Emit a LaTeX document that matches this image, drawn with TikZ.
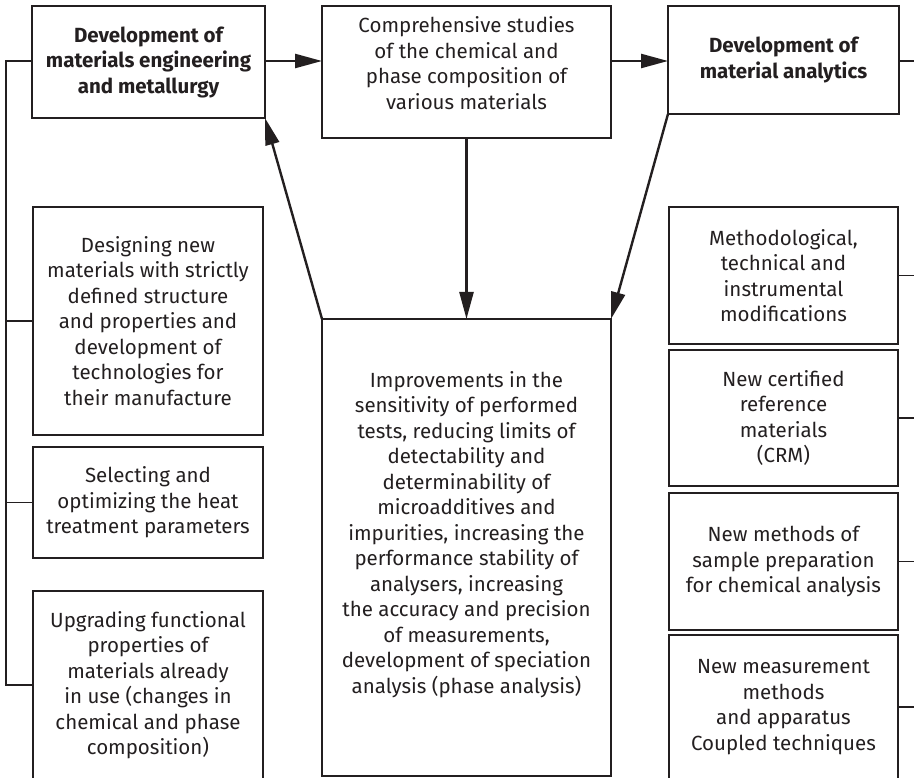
\documentclass[tikz,border=0pt]{standalone}
\usepackage{fontspec}
\setmainfont{Fira Sans}
\usetikzlibrary{arrows.meta}
\definecolor{ink}{RGB}{35,31,32}
\begin{document}
\begin{tikzpicture}[x=1pt, y=-1pt,
  every node/.style={inner sep=0pt, outer sep=0pt},
  txt/.style={align=center, text=ink, font=\fontsize{20.5}{25.5}\selectfont},
  boldtxt/.style={txt, font=\fontsize{20.5}{25.5}\selectfont\bfseries},
  mainbox/.style={draw=ink, line width=2.6pt, rectangle},
  subbox/.style={draw=ink, line width=1.3pt, rectangle},
  flow/.style={draw=ink, line width=2.4pt, -{Triangle[length=27pt, width=14pt]}},
  tick/.style={draw=ink, line width=1.3pt}
]
\useasboundingbox (0,0) rectangle (914,778);
\clip (0,0) rectangle (914,778);

% top row
\node[mainbox, minimum width=233pt, minimum height=112pt] (A) at (148.5,62) {};
\node[boldtxt] at (A) {Development of\\materials engineering\\and metallurgy};
\node[mainbox, minimum width=289pt, minimum height=132pt] (B) at (466.5,72) {};
\node[txt, yshift=9pt] at (B) {Comprehensive studies\\of the chemical and\\phase composition of\\various materials};
\node[mainbox, minimum width=231pt, minimum height=108pt] (C) at (783.5,60) {};
\node[boldtxt] at (C) {Development of\\material analytics};

% central result box
\node[mainbox, minimum width=289pt, minimum height=457pt] (E) at (466.5,547.5) {};
\node[txt, yshift=13pt] at (E) {Improvements in the\\sensitivity of performed\\tests, reducing limits of\\detectability and\\determinability of\\microadditives and\\impurities, increasing the\\performance stability of\\analysers, increasing\\the accuracy and precision\\of measurements,\\development of speciation\\analysis (phase analysis)};

% left column
\node[subbox, minimum width=230pt, minimum height=228pt] (D1) at (148,321) {};
\node[txt] at (D1) {Designing new\\materials with strictly\\defined structure\\and properties and\\development of\\technologies for\\their manufacture};
\node[subbox, minimum width=230pt, minimum height=111pt] (D2) at (148,502.5) {};
\node[txt] at (D2) {Selecting and\\optimizing the heat\\treatment parameters};
\node[subbox, minimum width=230pt, minimum height=188pt] (D3) at (148,685) {};
\node[txt] at (D3) {Upgrading functional\\properties of\\materials already\\in use (changes in\\chemical and phase\\composition)};

% right column
\node[subbox, minimum width=229pt, minimum height=137pt] (R1) at (783.5,275.5) {};
\node[txt] at (R1) {Methodological,\\technical and\\instrumental\\modifications};
\node[subbox, minimum width=229pt, minimum height=136pt] (R2) at (783.5,418) {};
\node[txt] at (R2) {New certified\\reference\\materials\\(CRM)};
\node[subbox, minimum width=229pt, minimum height=137pt] (R3) at (783.5,561.5) {};
\node[txt] at (R3) {New methods of\\sample preparation\\for chemical analysis};
\node[subbox, minimum width=229pt, minimum height=144pt] (R4) at (783.5,707) {};
\node[txt] at (R4) {New measurement\\methods\\and apparatus\\Coupled techniques};

% flow arrows
\draw[flow] (A.east |- 0,61) -- (B.west |- 0,61);
\draw[flow] (B.east |- 0,61) -- (C.west |- 0,61);
\draw[flow] (B.south) -- (E.north);
\draw[flow] (E.north west) -- (A.south east);
\draw[flow] (C.south west) -- (E.north east);

% left bracket
\coordinate (lb) at (6,61);
\coordinate (rb) at (914,61);
\draw[tick] (A.west |- lb) -- (lb) -- (lb |- D3.west) -- (D3.west);
\draw[tick] (D1.west) -- (D1.west -| lb);
\draw[tick] (D2.west) -- (D2.west -| lb);

% right bracket ticks
\draw[tick] (C.east |- rb) -- (rb);
\draw[tick] (R1.east) -- (R1.east -| rb);
\draw[tick] (R2.east) -- (R2.east -| rb);
\draw[tick] (R3.east) -- (R3.east -| rb);
\draw[tick] (R4.east) -- (R4.east -| rb);
\end{tikzpicture}
\end{document}
